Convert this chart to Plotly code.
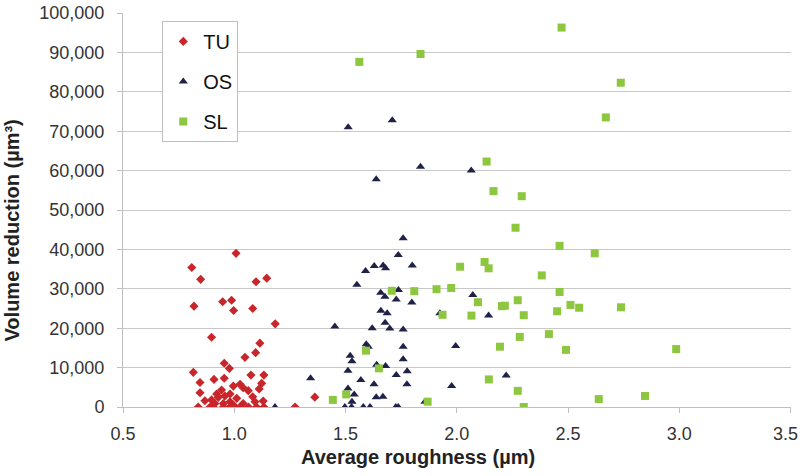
import plotly.graph_objects as go

# ---- data ----
tu_x = [1.184, 0.898, 1.115, 1.096, 1.048, 0.955, 0.978, 0.816, 1.075, 1.133,
        0.909, 0.955, 0.846, 1.123, 1.026, 0.996, 1.040, 1.112, 0.846, 0.943,
        1.063, 0.981, 0.921, 0.928, 0.958, 1.011, 1.083, 0.898, 0.868, 0.913,
        0.951, 0.981, 0.996, 1.040, 1.093, 1.130,
        0.838, 0.891, 0.906, 0.951, 0.980, 0.995, 1.026, 1.064, 1.100, 1.133, 1.273,
        1.362, 1.008, 0.809, 0.849, 1.098, 1.146, 0.819, 0.948, 0.988, 0.997, 1.083]
tu_y = [21100, 17700, 16200, 13800, 12600, 11100, 9800, 8800, 8100, 8100,
        7000, 7300, 6200, 6000, 5750, 5300, 4900, 4600, 3600, 4300,
        4150, 3300, 3300, 2450, 2800, 2200, 2600, 1800, 1600, 900,
        900, 1350, 500, 900, 1350, 1500,
        0, 0, 0, 0, 0, 0, 0, 0, 0, 0, 0,
        2500, 39000, 35400, 32400, 31800, 32700, 25600, 26700, 27100, 24500, 25000]

os_x = [1.512, 1.710, 1.837, 2.065, 1.638, 1.759, 1.737, 1.629, 1.669, 1.680,
        1.800, 1.590, 1.551, 1.658, 1.677, 1.738, 1.728, 1.798, 2.072, 1.659,
        1.687, 1.924, 2.143, 1.678, 1.452, 1.620, 1.699, 1.759, 1.593, 1.602,
        1.759, 1.995, 1.521, 1.529, 1.759, 1.640, 1.680, 1.511, 1.777, 1.728,
        1.343, 1.569, 2.222, 1.628, 1.776, 1.977, 1.511, 1.539, 1.638, 1.668,
        1.529, 1.857, 1.497, 1.527, 1.580, 1.610, 1.726, 1.737, 1.183]
os_y = [71000, 72800, 61000, 60000, 57800, 42800, 38600, 35800, 35900, 35200,
        35900, 34500, 31000, 29000, 28000, 29700, 27300, 26500, 28400, 24400,
        23800, 23800, 23200, 21400, 20400, 20000, 19900, 19700, 15900, 15300,
        15300, 15500, 13000, 11600, 12100, 10700, 10400, 9200, 9100, 8100,
        7300, 6850, 8000, 5800, 5800, 5300, 4700, 3200, 2450, 2600,
        1350, 1350, 0, 0, 0, 0, 0, 0, 0]

sl_x = [2.471, 1.837, 1.562, 2.737, 2.670, 2.134, 2.165, 2.292, 2.264, 2.462,
        2.620, 2.015, 2.125, 2.143, 2.382, 1.708, 1.809, 1.909, 1.975, 2.462,
        2.095, 2.274, 2.203, 2.216, 2.511, 2.550, 2.738, 1.936, 2.066, 2.301,
        2.451, 2.283, 2.414, 2.194, 2.491, 2.986, 2.144, 2.274, 1.869, 2.301,
        2.638, 2.846, 1.592, 1.650, 1.443, 1.503]
sl_y = [96300, 89600, 87600, 82300, 73500, 62300, 54800, 53500, 45500, 40900,
        39000, 35600, 36800, 35200, 33400, 29500, 29400, 29900, 30200, 29200,
        26600, 27100, 25600, 25700, 25900, 25200, 25300, 23400, 23200, 23300,
        24300, 17800, 18500, 15300, 14500, 14700, 7000, 4100, 1350, 0,
        2000, 2800, 14300, 9800, 1800, 3200]

x_ticks = [0.5, 1.0, 1.5, 2.0, 2.5, 3.0, 3.5]
x_labels = ["0.5", "1.0", "1.5", "2.0", "2.5", "3.0",
            "3.5<span style='color:rgba(0,0,0,0)'>0</span>"]
y_ticks = list(range(0, 100001, 10000))

fig = go.Figure()
fig.add_trace(go.Scatter(x=tu_x, y=tu_y, mode="markers", name="TU", legendgroup="a",
                         marker=dict(symbol="diamond", size=7, color="#C8262A")))
fig.add_trace(go.Scatter(x=os_x, y=os_y, mode="markers", name="OS", legendgroup="b",
                         marker=dict(symbol="triangle-up", size=8, color="#1F2149")))
fig.add_trace(go.Scatter(x=sl_x, y=sl_y, mode="markers", name="SL", legendgroup="c",
                         marker=dict(symbol="square", size=8, color="#8DC63F")))

fig.update_layout(
    width=800, height=476,
    margin=dict(l=123, r=9, t=13, b=69, autoexpand=False),
    paper_bgcolor="white", plot_bgcolor="white",
    font=dict(family="Liberation Sans, Arial, sans-serif", size=18, color="#333333"),
    showlegend=True,
    legend=dict(x=0.0588, y=0.98, xanchor="left", yanchor="top",
                bordercolor="#BFBFBF", borderwidth=1, bgcolor="white",
                font=dict(size=20, color="#111111"), tracegroupgap=11,
                itemwidth=30),
    xaxis=dict(range=[0.5, 3.502], tickvals=x_ticks, ticktext=x_labels,
               showgrid=False, zeroline=False, showline=True, linecolor="#BFBFBF",
               ticks="outside", ticklen=5, tickcolor="#BFBFBF",
               automargin=False, ticklabelstandoff=5, ticklabeloverflow="allow"),
    yaxis=dict(range=[0, 100000], tickvals=y_ticks, ticktext=[f"{v:,}" for v in y_ticks],
               showgrid=True, gridcolor="#C8C8C8", gridwidth=1, zeroline=False,
               showline=True, linecolor="#BFBFBF",
               ticks="outside", ticklen=5, tickcolor="#BFBFBF",
               automargin=False, ticklabelstandoff=9, ticklabeloverflow="allow"),
    annotations=[
        dict(text="<b>Average roughness (µm)</b>", xref="paper", yref="paper",
             x=0.4416, y=0, yshift=-50, xanchor="center", yanchor="middle",
             showarrow=False, font=dict(size=20, color="#222222")),
        dict(text="<b>Volume reduction (µm³)</b>", xref="paper", yref="paper",
             x=0, xshift=-111, y=0.448, xanchor="center", yanchor="middle", textangle=-90,
             showarrow=False, font=dict(size=20, color="#222222")),
    ],
)

fig.write_html("out.html", config={"displayModeBar": False},
               post_script="document.body.style.margin='0';")
